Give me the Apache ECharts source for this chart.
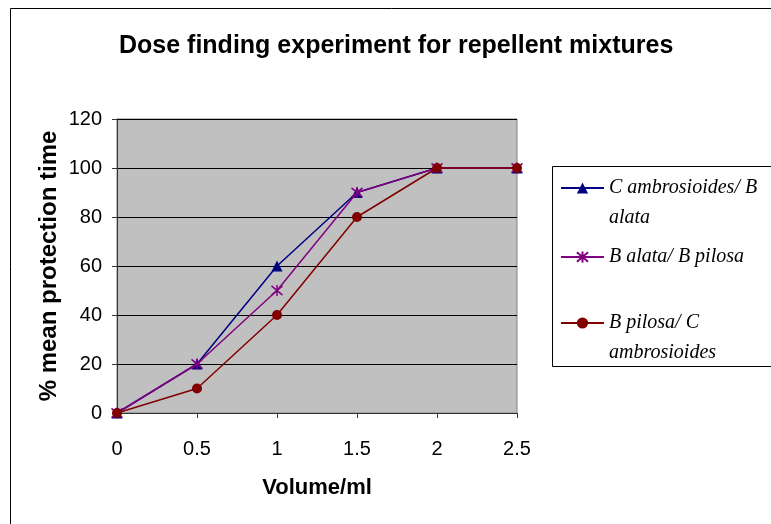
<!DOCTYPE html>
<html>
<head>
<meta charset="utf-8">
<script src="https://cdn.jsdelivr.net/npm/echarts@6/dist/echarts.min.js"></script>
<style>html,body{margin:0;padding:0;background:#fff;}#c{width:771px;height:524px;}</style>
</head>
<body>
<div id="c"></div>
<script>
var titleText = 'Dose finding experiment for repellent mixtures';
var xTitle = 'Volume/ml';
var yTitle = '% mean protection time';
var volumes = [0, 0.5, 1, 1.5, 2, 2.5];
var seriesNames = ['C ambrosioides/ B alata', 'B alata/ B pilosa', 'B pilosa/ C ambrosioides'];
var legendLabels = ['\nC ambrosioides/ B\nalata', 'B alata/ B pilosa', '\nB pilosa/ C\nambrosioides'];
var cAmbBAlata = [0, 20, 60, 90, 100, 100];
var bAlataBPilosa = [0, 20, 50, 90, 100, 100];
var bPilosaCAmb = [0, 10, 40, 80, 100, 100];
var seriesValues = [cAmbBAlata, bAlataBPilosa, bPilosaCAmb];

var colors = ['#000080', '#800080', '#800000'];
var symbols = ['triangle', 'path://M0,0L10,10M10,0L0,10M5,-1L5,11', 'circle'];
var sizes = [11, 11, 10];

function pairs(vals) { return volumes.map(function (v, i) { return [v, vals[i]]; }); }

var legendTops = [143, 242, 278];
var legends = seriesNames.map(function (n, i) {
  return {
    data: [n],
    left: 560,
    top: legendTops[i],
    padding: 0,
    itemWidth: 43,
    itemHeight: 14,
    formatter: function () { return legendLabels[i]; },
    textStyle: {
      fontFamily: 'Liberation Serif',
      fontStyle: 'italic',
      fontSize: 20,
      color: '#000',
      lineHeight: 30
    }
  };
});

var series = seriesNames.map(function (n, i) {
  var isStar = i === 1;
  return {
    name: n,
    type: 'line',
    data: pairs(seriesValues[i]),
    symbol: symbols[i],
    symbolSize: sizes[i],
    showAllSymbol: true,
    lineStyle: { color: colors[i], width: 1.5 },
    itemStyle: isStar ? { color: colors[i], borderColor: colors[i], borderWidth: 1.5 } : { color: colors[i], borderWidth: 0 },
    emphasis: { disabled: true },
    animation: false,
    z: 2 + i
  };
});

var chart = echarts.init(document.getElementById('c'), null, { renderer: 'canvas' });
chart.setOption({
  animation: false,
  backgroundColor: '#fff',
  title: {
    text: titleText,
    left: 119,
    top: 34,
    padding: 0,
    textStyle: { fontFamily: 'Liberation Sans', fontWeight: 'bold', fontSize: 25, color: '#000' }
  },
  legend: legends,
  grid: {
    left: 117, right: 254, top: 119, bottom: 111,
    show: true, backgroundColor: '#C0C0C0', borderColor: '#808080', borderWidth: 1
  },
  xAxis: {
    type: 'value', min: 0, max: 2.5, interval: 0.5,
    name: xTitle, nameLocation: 'middle', nameGap: 64, nameMoveOverlap: false,
    nameTextStyle: { fontFamily: 'Liberation Sans', fontWeight: 'bold', fontSize: 22, color: '#000' },
    axisLine: { lineStyle: { color: '#333', width: 1 } },
    axisTick: { show: true, inside: false, length: 5, lineStyle: { color: '#333' } },
    axisLabel: { margin: 26, fontFamily: 'Liberation Sans', fontSize: 20, color: '#000' },
    splitLine: { show: false }
  },
  yAxis: {
    type: 'value', min: 0, max: 120, interval: 20,
    name: yTitle, nameLocation: 'middle', nameGap: 56, nameMoveOverlap: false,
    nameTextStyle: { fontFamily: 'Liberation Sans', fontWeight: 'bold', fontSize: 24, color: '#000' },
    axisLine: { show: true, lineStyle: { color: '#333', width: 1 } },
    axisTick: { show: true, inside: false, length: 5, lineStyle: { color: '#333' } },
    axisLabel: { margin: 15, fontFamily: 'Liberation Sans', fontSize: 20, color: '#000' },
    splitLine: { show: true, lineStyle: { color: '#000', width: 1 } }
  },
  graphic: [
    { type: 'rect', shape: { x: 10.5, y: 8.5, width: 800, height: 600 }, style: { fill: 'none', stroke: '#000', lineWidth: 1 }, z: -1, silent: true },
    { type: 'rect', shape: { x: 552.5, y: 166.5, width: 240, height: 200 }, style: { fill: '#fff', stroke: '#000', lineWidth: 1 }, z: -1, silent: true }
  ],
  series: series
});
</script>
</body>
</html>
